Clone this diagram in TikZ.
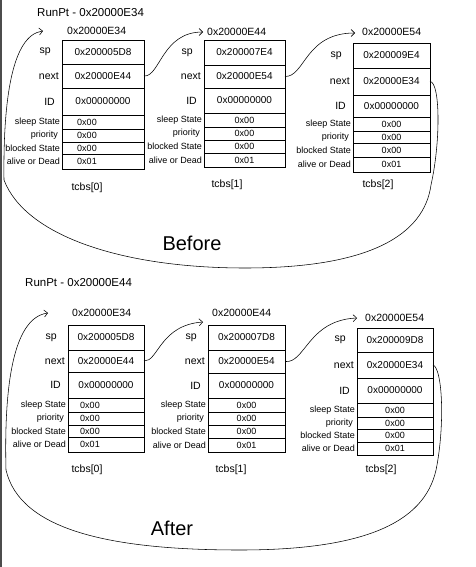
\documentclass[tikz,border=0pt]{standalone}
\usepackage{fontspec}
\setmainfont{Liberation Sans}
\usetikzlibrary{arrows.meta}
\newcommand\tcbrow[9]{%
  \node[cellbox, minimum width={#3-#2}, minimum height={#5-#4}] (#1) at ({(#2+#3)/2},{(#4+#5)/2}) {};
  \node[val#8] (#1v) at (#1.center) {#7};
  \node[lab#8] (#1l) at ({#2-#9},{(#4+#5)/2}) {#6};}
\begin{document}
\begin{tikzpicture}[x=1pt,y=-1pt,
  cellbox/.style={draw, line width=0.55pt, inner sep=0pt, outer sep=0pt},
  valbig/.style={inner sep=0pt, font=\fontsize{10}{10}\selectfont},
  valsmall/.style={inner sep=0pt, font=\fontsize{9}{9}\selectfont},
  valsmallL/.style={valsmall, xshift=-16pt},
  labbig/.style={anchor=east, inner sep=0pt, font=\fontsize{10.5}{10.5}\selectfont},
  labsmall/.style={anchor=east, inner sep=0pt, font=\fontsize{9}{9}\selectfont},
  labsmallL/.style={labsmall},
  addr/.style={anchor=west, inner sep=0pt, font=\fontsize{10.5}{10.5}\selectfont},
  tcbname/.style={inner sep=0pt, font=\fontsize{10.5}{10.5}\selectfont},
  runpt/.style={anchor=west, inner sep=0pt, font=\fontsize{11.5}{11.5}\selectfont},
  title/.style={inner sep=0pt, font=\fontsize{20}{20}\selectfont},
  link/.style={line width=0.55pt, -{Straight Barb[length=3.5pt,width=7pt]}},
]
\useasboundingbox (0,0) rectangle (476,567);
\fill[black!70] (0,0) rectangle (2,567);

% ================= BEFORE =================
\node[runpt] (trun) at (37,13) {RunPt - 0x20000E34};

\node[addr] (t0a) at (67,31) {0x20000E34};
\node[addr] (t1a) at (207,32) {0x20000E44};
\node[addr] (t2a) at (362,32) {0x20000E54};
\coordinate (t0in) at (43,31);
\coordinate (t1in) at (203,32);
\coordinate (t2in) at (355,33);

\tcbrow{t0sp}{62}{144}{40}{64}{sp}{0x200005D8}{big}{11}
\tcbrow{t0nx}{62}{144}{64}{88}{next}{0x20000E44}{big}{3}
\tcbrow{t0id}{62}{144}{88}{115}{ID}{0x00000000}{big}{7}
\tcbrow{t0sl}{62}{144}{115}{129}{sleep State}{0x00}{smallL}{2}
\tcbrow{t0pr}{62}{144}{129}{142}{priority}{0x00}{smallL}{4}
\tcbrow{t0bl}{62}{144}{142}{154}{blocked State}{0x00}{smallL}{2}
\tcbrow{t0al}{62}{144}{154}{169}{alive or Dead}{0x01}{smallL}{2}

\tcbrow{t1sp}{204}{285}{40}{65}{sp}{0x200007E4}{big}{11}
\tcbrow{t1nx}{204}{285}{65}{88}{next}{0x20000E54}{big}{3}
\tcbrow{t1id}{204}{285}{88}{113}{ID}{0x00000000}{big}{7}
\tcbrow{t1sl}{204}{285}{113}{127}{sleep State}{0x00}{small}{2}
\tcbrow{t1pr}{204}{285}{127}{140}{priority}{0x00}{small}{4}
\tcbrow{t1bl}{204}{285}{140}{153}{blocked State}{0x00}{small}{2}
\tcbrow{t1al}{204}{285}{153}{167}{alive or Dead}{0x01}{small}{2}

\tcbrow{t2sp}{353}{430}{43}{68}{sp}{0x200009E4}{big}{11}
\tcbrow{t2nx}{353}{430}{68}{95}{next}{0x20000E34}{big}{3}
\tcbrow{t2id}{353}{430}{95}{117}{ID}{0x00000000}{big}{7}
\tcbrow{t2sl}{353}{430}{117}{131}{sleep State}{0x00}{small}{2}
\tcbrow{t2pr}{353}{430}{131}{143}{priority}{0x00}{small}{4}
\tcbrow{t2bl}{353}{430}{143}{157}{blocked State}{0x00}{small}{2}
\tcbrow{t2al}{353}{430}{157}{172}{alive or Dead}{0x01}{small}{2}

\node[tcbname] (tc0) at (87,188) {tcbs[0]};
\node[tcbname] (tc1) at (227,185) {tcbs[1]};
\node[tcbname] (tc2) at (378,185) {tcbs[2]};
\node[title] (before) at (192,243) {Before};

\draw[link] (t0nx.east) .. controls (160,77) and (162,32) .. (t1in);
\draw[link] (t1nx.east) .. controls (305,77) and (305,33) .. (t2in);
\draw[link] (t2nx.east) .. controls (440,82) and (441,140) .. (431,185)
  .. controls (424,235) and (370,268) .. (245,268)
  .. controls (120,268) and (25,235) .. (4,180)
  .. controls (3,100) and (12,35) .. (t0in);

% ================= AFTER =================
\node[runpt] (brun) at (25,283) {RunPt - 0x20000E44};

\node[addr] (b0a) at (72,313) {0x20000E34};
\node[addr] (b1a) at (212,313) {0x20000E44};
\node[addr] (b2a) at (365,318) {0x20000E54};
\coordinate (b0in) at (48,313);
\coordinate (b1in) at (203,322);
\coordinate (b2in) at (357,318);

\tcbrow{b0sp}{68}{144}{325}{350}{sp}{0x200005D8}{big}{11}
\tcbrow{b0nx}{68}{144}{350}{372}{next}{0x20000E44}{big}{3}
\tcbrow{b0id}{68}{144}{372}{398}{ID}{0x00000000}{big}{7}
\tcbrow{b0sl}{68}{144}{398}{412}{sleep State}{0x00}{smallL}{2}
\tcbrow{b0pr}{68}{144}{412}{425}{priority}{0x00}{smallL}{4}
\tcbrow{b0bl}{68}{144}{425}{437}{blocked State}{0x00}{smallL}{2}
\tcbrow{b0al}{68}{144}{437}{452}{alive or Dead}{0x01}{smallL}{2}

\tcbrow{b1sp}{208}{285}{325}{350}{sp}{0x200007D8}{big}{11}
\tcbrow{b1nx}{208}{285}{350}{373}{next}{0x20000E54}{big}{3}
\tcbrow{b1id}{208}{285}{373}{398}{ID}{0x00000000}{big}{7}
\tcbrow{b1sl}{208}{285}{398}{412}{sleep State}{0x00}{small}{2}
\tcbrow{b1pr}{208}{285}{412}{425}{priority}{0x00}{small}{4}
\tcbrow{b1bl}{208}{285}{425}{438}{blocked State}{0x00}{small}{2}
\tcbrow{b1al}{208}{285}{438}{452}{alive or Dead}{0x01}{small}{2}

\tcbrow{b2sp}{357}{433}{328}{352}{sp}{0x200009D8}{big}{11}
\tcbrow{b2nx}{357}{433}{352}{378}{next}{0x20000E34}{big}{3}
\tcbrow{b2id}{357}{433}{378}{403}{ID}{0x00000000}{big}{7}
\tcbrow{b2sl}{357}{433}{403}{417}{sleep State}{0x00}{small}{2}
\tcbrow{b2pr}{357}{433}{417}{429}{priority}{0x00}{small}{4}
\tcbrow{b2bl}{357}{433}{429}{442}{blocked State}{0x00}{small}{2}
\tcbrow{b2al}{357}{433}{442}{455}{alive or Dead}{0x01}{small}{2}

\node[tcbname] (bc0) at (87,470) {tcbs[0]};
\node[tcbname] (bc1) at (231,470) {tcbs[1]};
\node[tcbname] (bc2) at (381,470) {tcbs[2]};
\node[title] (after) at (172,528) {After};

\draw[link] (b0nx.east) .. controls (158,362) and (160,325) .. (b1in);
\draw[link] (b1nx.east) .. controls (305,364) and (308,320) .. (b2in);
\draw[link] (b2nx.east) .. controls (442,368) and (445,420) .. (437,465)
  .. controls (428,520) and (370,550) .. (240,550)
  .. controls (110,550) and (20,530) .. (6,470)
  .. controls (4,390) and (12,318) .. (b0in);
\end{tikzpicture}
\end{document}
